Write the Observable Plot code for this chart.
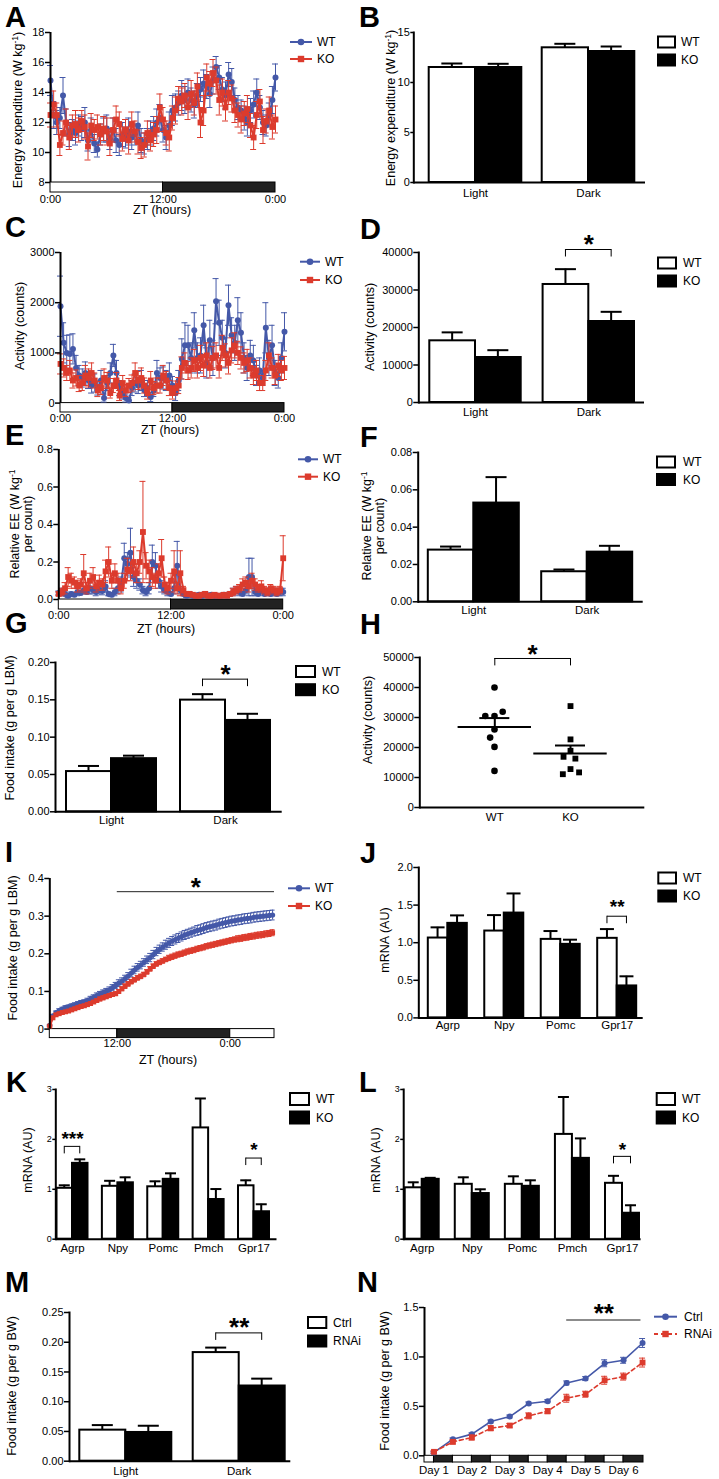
<!DOCTYPE html>
<html>
<head>
<meta charset="utf-8">
<script src="https://cdn.jsdelivr.net/npm/d3@7"></script>
<script src="https://cdn.jsdelivr.net/npm/@observablehq/plot@0.6"></script>
<style>
html,body{margin:0;padding:0;background:#fff;}
#fig{position:relative;width:719px;height:1479px;overflow:hidden;background:#fff;font-family:"Liberation Sans",Arial,Helvetica,sans-serif;color:#000;}
.t{position:absolute;white-space:nowrap;line-height:1;text-align:center;}
.letter{position:absolute;font-weight:bold;font-size:29px;line-height:1;}
sup{font-size:0.68em;line-height:0;vertical-align:0.45em;}
</style>
</head>
<body>
<div id="fig"></div>
<script>
// ================= DATA =================
const genotypes = ["WT", "KO"];
const lightDark = ["Light", "Dark"];
const treatments = ["Ctrl", "RNAi"];
const genesJ = ["Agrp", "Npy", "Pomc", "Gpr17"];
const genesKL = ["Agrp", "Npy", "Pomc", "Pmch", "Gpr17"];

// sampling times (ZT hours), every 20 min
const zt = d3.range(73).map(i => i / 3);
const ztI = d3.range(72).map(i => 4.83 + i / 3);

// A: energy expenditure time course (W/kg)
const eeWT = [14.8,12.5,12.0,12.3,13.8,12.0,11.2,11.5,11.3,11.8,
  11.6,12.0,10.8,11.5,10.6,10.2,11.2,11.5,11.6,10.9,
  11.5,10.8,10.5,11.2,11.0,11.4,11.0,11.2,11.8,10.8,
  10.6,10.9,11.3,11.6,12.0,12.3,11.5,11.0,11.8,12.8,
  13.0,13.3,13.8,13.5,14.0,13.5,13.2,13.8,14.2,14.6,
  14.4,13.9,14.8,15.7,15.0,14.2,13.8,15.2,14.7,13.5,
  13.0,12.8,12.3,12.0,12.8,13.2,14.0,13.0,12.0,11.8,
  12.5,13.5,15.0];
const eeWTsem = [1.0,0.9,0.8,0.7,1.2,0.9,0.8,0.7,0.8,0.7,
  0.8,1.0,0.7,0.8,0.6,0.5,0.7,0.8,0.9,0.7,
  0.8,0.8,0.7,0.8,0.7,0.9,0.8,0.7,0.9,0.8,
  0.7,0.7,0.8,0.8,0.9,0.9,0.8,0.8,0.9,1.0,
  0.9,0.8,1.0,0.9,0.9,0.8,0.9,0.8,0.8,0.9,
  0.8,0.9,0.9,0.7,0.8,0.8,0.9,0.8,0.9,0.8,
  0.8,0.7,0.8,0.9,0.8,0.9,0.9,0.8,0.8,0.7,
  0.8,0.9,0.9];
const eeKO = [12.5,13.2,12.5,10.5,11.3,12.0,11.0,11.8,11.9,11.5,
  12.1,11.7,10.4,11.8,11.5,11.7,11.2,11.6,11.4,10.6,
  11.5,12.2,11.9,10.9,11.5,10.8,11.9,11.4,10.7,10.3,
  10.5,11.3,10.8,11.2,11.5,13.0,12.2,11.3,11.0,12.3,
  12.8,13.6,13.4,13.8,13.0,13.9,13.3,14.4,12.0,12.8,
  15.0,14.6,15.3,14.8,13.5,14.0,13.0,14.0,13.6,12.8,
  12.5,12.2,12.6,12.9,11.8,11.0,12.5,13.4,11.5,12.1,
  12.8,11.7,12.2];
const eeKOsem = [0.8,0.9,0.8,0.7,0.8,0.9,0.8,0.7,0.9,0.8,
  0.7,0.8,0.9,0.8,0.7,0.8,0.7,0.8,0.9,0.8,
  0.8,0.9,0.8,0.8,0.7,0.9,0.8,0.7,0.8,0.7,
  0.8,0.8,0.7,0.8,0.9,0.9,0.8,0.8,0.9,0.8,
  0.9,0.8,0.9,0.8,0.8,0.9,0.8,0.9,1.0,1.0,
  0.9,0.8,0.9,0.9,1.0,0.9,0.9,0.8,0.9,0.8,
  0.8,0.9,0.8,0.9,0.8,0.8,0.9,0.8,0.9,0.8,
  0.9,0.8,0.9];

// B: energy expenditure, light / dark
const eeBarWT = [11.5, 13.47], eeBarWTsem = [0.4, 0.4];
const eeBarKO = [11.5, 13.1], eeBarKOsem = [0.37, 0.5];

// C: activity time course (counts)
const actWT = [1930,1200,1000,980,1080,700,550,500,600,450,
  350,400,300,450,100,400,600,950,600,300,
  200,100,50,300,400,350,450,250,300,120,
  250,600,500,500,450,550,350,200,450,880,
  1150,1150,900,1450,900,950,1550,800,1250,900,
  2030,1600,1300,1000,1950,1350,1200,1650,1400,900,
  700,950,850,550,650,500,1500,900,1150,600,
  500,900,1420];
const actWTsem = [600,400,350,380,300,250,200,180,220,160,
  150,180,140,200,80,150,200,220,250,150,
  120,80,60,150,180,160,200,120,150,90,
  120,250,200,220,200,250,180,150,200,400,
  450,400,300,350,300,350,400,300,400,350,
  450,450,350,300,400,350,350,450,400,300,
  250,300,300,200,250,150,500,350,400,250,
  200,300,380];
const actKO = [780,700,600,650,450,500,350,400,550,500,
  600,450,250,300,500,450,200,350,450,150,
  400,250,350,400,600,450,500,350,200,450,
  300,350,350,550,450,300,200,300,350,700,
  800,650,700,850,700,900,750,950,700,900,
  950,700,1100,950,800,1050,1150,1000,900,800,
  850,700,550,650,400,400,650,950,700,550,
  750,650,700];
const actKOsem = [200,180,150,200,150,160,120,150,200,180,
  200,150,120,130,180,160,100,140,160,100,
  150,120,140,160,200,180,200,150,120,180,
  130,150,150,200,180,150,120,140,160,220,
  200,180,200,220,200,250,220,250,200,230,
  250,200,250,230,220,250,250,230,220,200,
  220,200,180,200,150,150,200,250,200,180,
  220,200,230];

// D: activity, light / dark
const actBarWT = [16450, 31470], actBarWTsem = [2250, 4090];
const actBarKO = [12000, 21600], actBarKOsem = [1950, 2580];

// E: relative EE time course
const reeWT = [0.035,0.04,0.03,0.02,0.03,0.025,0.04,0.035,0.05,0.04,
  0.06,0.05,0.04,0.05,0.045,0.07,0.03,0.025,0.04,0.06,
  0.08,0.22,0.19,0.25,0.12,0.1,0.08,0.05,0.04,0.06,
  0.2,0.18,0.1,0.07,0.05,0.04,0.03,0.06,0.18,0.05,
  0.03,0.02,0.025,0.02,0.02,0.025,0.02,0.03,0.02,0.025,
  0.02,0.02,0.02,0.025,0.02,0.03,0.04,0.05,0.04,0.03,
  0.05,0.12,0.12,0.04,0.03,0.05,0.03,0.04,0.03,0.04,
  0.03,0.04,0.04];
const reeWTsem = [0.01,0.02,0.01,0.01,0.01,0.01,0.02,0.01,0.02,0.01,
  0.03,0.02,0.02,0.02,0.02,0.03,0.01,0.01,0.02,0.03,
  0.04,0.08,0.06,0.13,0.05,0.04,0.03,0.02,0.02,0.03,
  0.09,0.07,0.04,0.03,0.02,0.02,0.01,0.03,0.13,0.02,
  0.01,0.01,0.01,0.01,0.01,0.01,0.01,0.01,0.01,0.01,
  0.01,0.01,0.01,0.01,0.01,0.01,0.02,0.02,0.02,0.01,
  0.02,0.1,0.1,0.02,0.01,0.02,0.01,0.02,0.01,0.02,
  0.01,0.02,0.02];
const reeKO = [0.03,0.04,0.06,0.12,0.1,0.09,0.07,0.08,0.14,0.06,
  0.1,0.12,0.07,0.09,0.08,0.15,0.2,0.1,0.14,0.1,
  0.06,0.1,0.16,0.15,0.2,0.14,0.2,0.36,0.18,0.15,
  0.12,0.1,0.14,0.22,0.08,0.06,0.1,0.15,0.06,0.14,
  0.05,0.03,0.03,0.025,0.02,0.02,0.025,0.03,0.02,0.02,
  0.025,0.02,0.02,0.025,0.02,0.03,0.04,0.05,0.06,0.08,
  0.09,0.07,0.1,0.08,0.06,0.07,0.05,0.04,0.06,0.05,
  0.04,0.05,0.22];
const reeKOsem = [0.01,0.02,0.03,0.05,0.04,0.03,0.03,0.03,0.1,0.03,
  0.04,0.05,0.03,0.04,0.03,0.06,0.08,0.04,0.05,0.04,
  0.03,0.04,0.06,0.05,0.08,0.05,0.06,0.27,0.07,0.06,
  0.05,0.04,0.05,0.1,0.04,0.03,0.04,0.11,0.03,0.12,
  0.02,0.01,0.01,0.01,0.01,0.01,0.01,0.01,0.01,0.01,
  0.01,0.01,0.01,0.01,0.01,0.01,0.02,0.02,0.02,0.03,
  0.03,0.03,0.04,0.03,0.02,0.03,0.02,0.02,0.02,0.02,
  0.02,0.02,0.12];

// F: relative EE, light / dark
const reeBarWT = [0.0277, 0.0161], reeBarWTsem = [0.0019, 0.0012];
const reeBarKO = [0.0529, 0.0266], reeBarKOsem = [0.0139, 0.0034];

// G: food intake, light / dark (g per g LBM)
const fiBarWT = [0.0539, 0.1496], fiBarWTsem = [0.0075, 0.008];
const fiBarKO = [0.0712, 0.1224], fiBarKOsem = [0.004, 0.0089];

// H: individual activity counts
const hWT = [40000, 30500, 30500, 31900, 26000, 23300, 20200, 12200];
const hKO = [33800, 22700, 18900, 16900, 16300, 12800, 11100, 11700];

// I: cumulative food intake (g per g LBM)
const cumWT = [0.01,0.035,0.044,0.049,0.053,0.057,0.059,0.062,0.064,0.067,
  0.07,0.072,0.076,0.08,0.084,0.089,0.093,0.097,0.1,0.104,
  0.11,0.116,0.122,0.127,0.134,0.141,0.149,0.157,0.164,0.17,
  0.177,0.184,0.19,0.198,0.206,0.212,0.218,0.224,0.229,0.234,
  0.238,0.242,0.246,0.25,0.253,0.256,0.259,0.262,0.264,0.267,
  0.27,0.272,0.274,0.276,0.279,0.281,0.283,0.285,0.287,0.288,
  0.29,0.291,0.293,0.294,0.295,0.297,0.298,0.299,0.3,0.301,
  0.302,0.303];
const cumWTsem = [0.002,0.004,0.004,0.005,0.005,0.005,0.005,0.005,0.006,0.006,
  0.006,0.006,0.006,0.007,0.007,0.007,0.007,0.007,0.008,0.008,
  0.008,0.008,0.009,0.009,0.009,0.009,0.01,0.01,0.01,0.01,
  0.01,0.01,0.011,0.011,0.011,0.011,0.011,0.012,0.012,0.012,
  0.012,0.012,0.012,0.012,0.012,0.012,0.012,0.013,0.013,0.013,
  0.013,0.013,0.013,0.013,0.013,0.013,0.013,0.013,0.013,0.013,
  0.013,0.013,0.013,0.013,0.013,0.013,0.013,0.013,0.013,0.013,
  0.013,0.013];
const cumKO = [0.008,0.03,0.038,0.041,0.044,0.046,0.048,0.051,0.054,0.057,
  0.06,0.062,0.065,0.068,0.072,0.076,0.08,0.083,0.086,0.089,
  0.092,0.094,0.1,0.107,0.114,0.12,0.126,0.131,0.136,0.14,
  0.145,0.152,0.16,0.167,0.173,0.177,0.181,0.185,0.189,0.192,
  0.195,0.198,0.2,0.203,0.206,0.208,0.21,0.213,0.215,0.217,
  0.22,0.222,0.224,0.226,0.228,0.23,0.232,0.234,0.236,0.238,
  0.24,0.241,0.243,0.244,0.246,0.247,0.249,0.25,0.251,0.253,
  0.254,0.256];
const cumKOsem = [0.002,0.003,0.003,0.003,0.003,0.003,0.003,0.004,0.004,0.004,
  0.004,0.004,0.004,0.004,0.004,0.005,0.005,0.005,0.005,0.005,
  0.005,0.005,0.005,0.005,0.006,0.006,0.006,0.006,0.006,0.006,
  0.006,0.006,0.006,0.006,0.006,0.006,0.006,0.006,0.007,0.007,
  0.007,0.007,0.007,0.007,0.007,0.007,0.007,0.007,0.007,0.007,
  0.007,0.007,0.007,0.007,0.007,0.007,0.007,0.007,0.007,0.007,
  0.008,0.008,0.008,0.008,0.008,0.008,0.008,0.008,0.008,0.008,
  0.008,0.008];

// J: hypothalamic mRNA
const jWT = [1.062, 1.155, 1.044, 1.058], jWTsem = [0.142, 0.212, 0.111, 0.123];
const jKO = [1.257, 1.394, 0.978, 0.425], jKOsem = [0.106, 0.261, 0.062, 0.128];
// K
const kWT = [1.02, 1.06, 1.05, 2.23, 1.07], kWTsem = [0.06, 0.11, 0.11, 0.59, 0.11];
const kKO = [1.52, 1.13, 1.2, 0.795, 0.55], kKOsem = [0.08, 0.11, 0.12, 0.21, 0.15];
// L
const lWT = [1.03, 1.1, 1.1, 2.1, 1.12], lWTsem = [0.11, 0.14, 0.16, 0.75, 0.15];
const lKO = [1.2, 0.915, 1.06, 1.62, 0.52], lKOsem = [0.03, 0.085, 0.12, 0.4, 0.16];

// M: food intake, Ctrl vs RNAi (g per g BW)
const mCtrl = [0.0522, 0.1826], mCtrlsem = [0.0085, 0.0084];
const mRNAi = [0.0483, 0.1264], mRNAisem = [0.0113, 0.0124];

// N: cumulative food intake over 6 days (hours from start)
const nHours = [12, 24, 36, 48, 60, 72, 84, 96, 108, 120, 132, 144];
const nCtrl = [0.034,0.168,0.219,0.347,0.397,0.529,0.552,0.737,0.781,0.936,0.966,1.141];
const nCtrlsem = [0.01,0.012,0.012,0.015,0.015,0.015,0.015,0.02,0.02,0.035,0.03,0.045];
const nRNAi = [0.04,0.141,0.185,0.279,0.306,0.404,0.451,0.582,0.623,0.764,0.801,0.943];
const nRNAisem = [0.01,0.02,0.025,0.025,0.02,0.03,0.025,0.04,0.03,0.04,0.035,0.045];
const dayTicks = [12, 36, 60, 84, 108, 132];
const dayLabels = ["Day 1", "Day 2", "Day 3", "Day 4", "Day 5", "Day 6"];

// light / dark phases
const phases24 = [{start: 0, end: 12, dark: false}, {start: 12, end: 24, dark: true}];
const phasesI = [{start: 4.83, end: 12, dark: false}, {start: 12, end: 24, dark: true}, {start: 24, end: 28.7, dark: false}];
const phasesN = [{start: 6, end: 12, dark: false}, {start: 12, end: 24, dark: true}, {start: 24, end: 36, dark: false},
  {start: 36, end: 48, dark: true}, {start: 48, end: 60, dark: false}, {start: 60, end: 72, dark: true},
  {start: 72, end: 84, dark: false}, {start: 84, end: 96, dark: true}, {start: 96, end: 108, dark: false},
  {start: 108, end: 120, dark: true}, {start: 120, end: 132, dark: false}, {start: 132, end: 144.6, dark: true}];

// significance annotations
const sigD = [{cat: "Dark", y: 40800, label: "*"}];
const sigG = [{cat: "Dark", y: 0.1777, label: "*"}];
const sigH = [{a: "WT", b: "KO", y: 49667, label: "*"}];
const sigI = [{t1: 12, t2: 28.7, y: 0.365, label: "*"}];
const sigJ = [{cat: "Gpr17", y: 1.352, label: "**"}];
const sigK = [{cat: "Agrp", y: 1.86, label: "***"}, {cat: "Gpr17", y: 1.626, label: "*"}];
const sigL = [{cat: "Gpr17", y: 1.66, label: "*"}];
const sigM = [{cat: "Dark", y: 0.2157, label: "**"}];
const sigN = [{t1: 96, t2: 143, y: 1.3725, label: "**"}];

// ================= RENDERING =================
const FONT = "'Liberation Sans', Arial, Helvetica, sans-serif";
const STYLE = `font-family: ${FONT}; font-size: 11px; background: transparent; overflow: visible; max-width: none;`;
const BLUE = "#4458a8", RED = "#dc3b2d";
const TICKF = 11, CATF = 11.5;
const fig = document.getElementById("fig");
const legendParts = [];

function place(node, left, top, w) {
  const d = document.createElement("div");
  d.style.cssText = `position:absolute;left:${left}px;top:${top}px;width:${w}px;`;
  d.appendChild(node);
  fig.appendChild(d);
}
function text(html, x, y, {size = 12.5, rotate = false, weight = "normal", align = "center", lh = 1} = {}) {
  const d = document.createElement("div");
  d.className = "t";
  d.innerHTML = html;
  d.style.fontSize = size + "px";
  d.style.fontWeight = weight;
  d.style.lineHeight = lh === 1 ? "1" : lh + "px";
  d.style.left = x + "px";
  d.style.top = y + "px";
  let tr = align === "left" ? "translate(0,-50%)" : "translate(-50%,-50%)";
  if (rotate) tr += " rotate(-90deg)";
  d.style.transform = tr;
  fig.appendChild(d);
}
function letter(ch, x, capTop) {
  const d = document.createElement("div");
  d.className = "letter";
  d.textContent = ch;
  d.style.left = x + "px";
  d.style.top = (capTop - 3.8) + "px";
  fig.appendChild(d);
}
function lineLegend(x1, x2, ys, tx, items) {
  items.forEach((it, k) => {
    const y = ys[k], cx = (x1 + x2) / 2;
    legendParts.push(`<line x1="${x1}" x2="${x2}" y1="${y}" y2="${y}" stroke="${it.color}" stroke-width="2"${it.dash ? ` stroke-dasharray="${it.dash}"` : ""}/>`);
    legendParts.push(it.symbol === "square"
      ? `<rect x="${cx - 3.2}" y="${y - 3.2}" width="6.4" height="6.4" fill="${it.color}"/>`
      : `<circle cx="${cx}" cy="${y}" r="3.3" fill="${it.color}"/>`);
    text(it.label, tx, y, {size: 12, align: "left"});
  });
}
function boxLegend(x, w, h, ys, tx, labels) {
  labels.forEach((lab, k) => {
    legendParts.push(`<rect x="${x}" y="${ys[k] - h / 2}" width="${w}" height="${h}" fill="${k ? "black" : "white"}" stroke="black" stroke-width="2"/>`);
    text(lab, tx, ys[k], {size: 12, align: "left"});
  });
}

function timePanel(o) {
  const pad = 40;
  const ymin = o.yDomain[0];
  const marks = [
    Plot.rect(o.phases, {x1: "start", x2: "end", y1: ymin, y2: ymin, insetBottom: -o.barH,
      fill: d => d.dark ? "#222222" : "#ffffff", stroke: "black", strokeWidth: 1})
  ];
  for (const s of o.series) {
    const data = s.v.map((v, i) => ({t: s.t[i], v, e: s.e[i]}));
    const cap = {stroke: s.color, strokeWidth: 1, insetLeft: -o.capW / 2, insetRight: -o.capW / 2};
    marks.push(Plot.ruleX(data, {x: "t", y1: d => Math.max(ymin, d.v - d.e), y2: d => d.v + d.e, stroke: s.color, strokeWidth: 1}));
    marks.push(Plot.ruleY(data, {x1: "t", x2: "t", y: d => d.v + d.e, ...cap}));
    marks.push(Plot.ruleY(data.filter(d => d.v - d.e > ymin), {x1: "t", x2: "t", y: d => d.v - d.e, ...cap}));
    marks.push(Plot.line(data, {x: "t", y: "v", stroke: s.color, strokeWidth: s.lw || 2, strokeDasharray: s.dash}));
    marks.push(Plot.dot(data, {x: "t", y: "v", fill: s.color, r: s.r, symbol: s.symbol}));
  }
  marks.push(Plot.ruleX([o.xDomain[0]], {strokeWidth: 2}));
  marks.push(Plot.axisY({ticks: o.yTicks, tickFormat: o.yFmt, tickSize: 5, tickPadding: 1, strokeWidth: 1.5, label: null, fontSize: o.tickFont || TICKF}));
  marks.push(Plot.axisX({ticks: o.xTicks, tickFormat: o.xFmt, tickSize: 0, tickPadding: o.xPad, label: null, fontSize: o.xFont || TICKF}));
  if (o.sig) {
    marks.push(Plot.ruleY(o.sig, {y: "y", x1: "t1", x2: "t2", stroke: o.sigColor || "black", strokeWidth: o.sigW || 1}));
    marks.push(Plot.text(o.sig, {x: d => (d.t1 + d.t2) / 2, y: "y", text: "label", fontSize: o.sigFont, fontWeight: "bold",
      dy: -o.sigOff + 0.255 * o.sigFont}));
  }
  const svg = Plot.plot({
    width: 360, height: o.yBot - o.yTop + 2 * pad,
    marginLeft: o.x0 - o.col, marginRight: o.col + 360 - o.x1, marginTop: pad, marginBottom: pad,
    style: STYLE,
    x: {domain: o.xDomain},
    y: {domain: o.yDomain},
    marks
  });
  place(svg, o.col, o.yTop - pad, 360);
}

function barPanel(o) {
  const pad = 40;
  const n = o.cats.length;
  const step = (o.cN - o.c0) / (n - 1);
  const bw = o.bw, B = 2 * bw;
  const pi = 1 - B / step;
  const range = o.x1 - o.x0;
  const leftover = range - step * (n - pi);
  const po = leftover / (2 * step);
  const align = Math.max(0, Math.min(1, (o.c0 - B / 2 - o.x0) / leftover));
  const [ymin, ymax] = o.yDomain;
  const upp = (ymax - ymin) / (o.yBot - o.yTop);
  const rows = o.groups.map(s => o.cats.map((c, i) => ({cat: c, v: s.mean[i], s: s.sem[i]})));
  const capW = o.capW, ew = 2;
  const centers = [bw / 2, 1.5 * bw];
  const marks = [
    Plot.barY(rows[0], {x: "cat", y: "v", fill: "white", stroke: "black", strokeWidth: 2, insetRight: bw}),
    Plot.barY(rows[1], {x: "cat", y: "v", fill: "black", stroke: "black", strokeWidth: 2, insetLeft: bw})
  ];
  rows.forEach((r, k) => {
    const c = centers[k];
    marks.push(Plot.barY(r, {x: "cat", y1: "v", y2: d => d.v + d.s, fill: "black", insetLeft: c - ew / 2, insetRight: B - c - ew / 2}));
    marks.push(Plot.tickY(r, {x: "cat", y: d => d.v + d.s, strokeWidth: 2, insetLeft: c - capW / 2, insetRight: B - c - capW / 2}));
  });
  marks.push(Plot.ruleY([ymin], {strokeWidth: 2}));
  marks.push(Plot.frame({anchor: "left", strokeWidth: 2}));
  marks.push(Plot.axisY({ticks: o.yTicks, tickFormat: o.yFmt, tickSize: o.tickSize || 5, tickPadding: 1, strokeWidth: 1.5, label: null, fontSize: o.tickFont || TICKF}));
  marks.push(Plot.axisX({tickSize: 0, tickPadding: o.catPad, label: null, fontSize: o.catFont || CATF}));
  if (o.sig) {
    const L = 7.5 * upp;
    marks.push(Plot.tickY(o.sig, {x: "cat", y: "y", strokeWidth: 1, insetLeft: bw / 2, insetRight: bw / 2}));
    marks.push(Plot.barY(o.sig, {x: "cat", y1: d => d.y - L, y2: "y", fill: "black", insetLeft: bw / 2 - 0.5, insetRight: 1.5 * bw - 0.5}));
    marks.push(Plot.barY(o.sig, {x: "cat", y1: d => d.y - L, y2: "y", fill: "black", insetLeft: 1.5 * bw - 0.5, insetRight: bw / 2 - 0.5}));
    marks.push(Plot.text(o.sig, {x: "cat", y: "y", text: "label", fontSize: o.sigFont, fontWeight: "bold", dy: -o.sigOff + 0.255 * o.sigFont}));
  }
  const svg = Plot.plot({
    width: 360, height: o.yBot - o.yTop + 2 * pad,
    marginLeft: o.x0 - o.col, marginRight: o.col + 360 - o.x1, marginTop: pad, marginBottom: pad,
    style: STYLE,
    x: {type: "band", domain: o.cats, paddingInner: pi, paddingOuter: po, align, round: false},
    y: {domain: o.yDomain},
    marks
  });
  place(svg, o.col, o.yTop - pad, 360);
}

const f0 = d3.format("d"), f1 = d3.format(".1f"), f2 = d3.format(".2f");
const ztFmt = t => t === 12 ? "12:00" : "0:00";

// ---- A ----
timePanel({col: 0, x0: 50, x1: 275, yTop: 31.7, yBot: 181.7, xDomain: [0, 24], yDomain: [8, 18],
  yTicks: [8, 10, 12, 14, 16, 18], yFmt: f0, xTicks: [0, 12, 24], xFmt: ztFmt, xPad: 12.5,
  phases: phases24, barH: 10, capW: 6,
  series: [
    {t: zt, v: eeWT, e: eeWTsem, color: BLUE, r: 3, symbol: "circle"},
    {t: zt, v: eeKO, e: eeKOsem, color: RED, r: 3.3, symbol: "square"}
  ]});
// ---- B ----
barPanel({col: 360, x0: 413.3, x1: 645, yTop: 31.7, yBot: 181.7, yDomain: [0, 15], yTicks: [0, 5, 10, 15], yFmt: f0, tickSize: 3,
  cats: lightDark, c0: 475, cN: 588, bw: 46.3, capW: 21, catPad: 6,
  groups: [{mean: eeBarWT, sem: eeBarWTsem}, {mean: eeBarKO, sem: eeBarKOsem}]});
// ---- C ----
timePanel({col: 0, x0: 60, x1: 284, yTop: 251.7, yBot: 402.3, xDomain: [0, 24], yDomain: [0, 3000],
  yTicks: [0, 1000, 2000, 3000], yFmt: f0, xTicks: [0, 12, 24], xFmt: ztFmt, xPad: 11.5,
  phases: phases24, barH: 9.4, capW: 6,
  series: [
    {t: zt, v: actWT, e: actWTsem, color: BLUE, r: 3, symbol: "circle"},
    {t: zt, v: actKO, e: actKOsem, color: RED, r: 3.3, symbol: "square"}
  ]});
// ---- D ----
barPanel({col: 360, x0: 418.3, x1: 644, yTop: 252.3, yBot: 402.3, yDomain: [0, 40000], yTicks: [0, 10000, 20000, 30000, 40000], yFmt: f0,
  cats: lightDark, c0: 475, cN: 588.3, bw: 45.7, capW: 21, catPad: 5.7,
  groups: [{mean: actBarWT, sem: actBarWTsem}, {mean: actBarKO, sem: actBarKOsem}],
  sig: sigD, sigFont: 26, sigOff: 11});
// ---- E ----
timePanel({col: 0, x0: 58.3, x1: 282.7, yTop: 449.3, yBot: 599.3, xDomain: [0, 24], yDomain: [0, 0.8],
  yTicks: [0, 0.2, 0.4, 0.6, 0.8], yFmt: f1, xTicks: [0, 12, 24], xFmt: ztFmt, xPad: 11.5,
  phases: phases24, barH: 10, capW: 6,
  series: [
    {t: zt, v: reeWT, e: reeWTsem, color: BLUE, r: 3, symbol: "circle"},
    {t: zt, v: reeKO, e: reeKOsem, color: RED, r: 3.3, symbol: "square"}
  ]});
// ---- F ----
barPanel({col: 360, x0: 417.7, x1: 642.7, yTop: 451.7, yBot: 601, yDomain: [0, 0.08], yTicks: [0, 0.02, 0.04, 0.06, 0.08], yFmt: f2,
  cats: lightDark, c0: 473.3, cN: 586.7, bw: 45.5, capW: 21, catPad: 4,
  groups: [{mean: reeBarWT, sem: reeBarWTsem}, {mean: reeBarKO, sem: reeBarKOsem}]});
// ---- G ----
barPanel({col: 0, x0: 55, x1: 281.7, yTop: 661.7, yBot: 811, yDomain: [0, 0.2], yTicks: [0, 0.05, 0.1, 0.15, 0.2], yFmt: f2,
  cats: lightDark, c0: 111, cN: 225, bw: 45, capW: 21, catPad: 4,
  groups: [{mean: fiBarWT, sem: fiBarWTsem}, {mean: fiBarKO, sem: fiBarKOsem}],
  sig: sigG, sigFont: 26, sigOff: 11.6});
// ---- H ----
(function () {
  const pad = 40, x0 = 419.3, x1 = 644.3, yTop = 657.3, yBot = 807.3, cW = 494.3, cK = 570;
  const step = cK - cW, range = x1 - x0;
  const padding = (range / step - 1) / 2;
  const align = (cW - x0) / (range - step);
  const upp = 50000 / (yBot - yTop);
  const stats = genotypes.map((g, k) => {
    const v = k ? hKO : hWT;
    return {g, m: d3.mean(v), s: d3.deviation(v) / Math.sqrt(v.length)};
  });
  const L = 7.4 * upp;
  const svg = Plot.plot({
    width: 360, height: yBot - yTop + 2 * pad,
    marginLeft: x0 - 360, marginRight: 720 - x1, marginTop: pad, marginBottom: pad,
    style: STYLE,
    x: {type: "point", domain: genotypes, padding, align, round: false},
    y: {domain: [0, 50000]},
    marks: [
      Plot.ruleY(stats, {y: "m", x1: "g", x2: "g", insetLeft: -36.7, insetRight: -36.7, strokeWidth: 2}),
      Plot.ruleX(stats, {x: "g", y1: "m", y2: d => d.m + d.s, strokeWidth: 2}),
      Plot.ruleY(stats, {y: d => d.m + d.s, x1: "g", x2: "g", insetLeft: -15, insetRight: -15, strokeWidth: 2}),
      Plot.ruleY([0], {strokeWidth: 2}),
      Plot.frame({anchor: "left", strokeWidth: 2}),
      Plot.axisY({ticks: [0, 10000, 20000, 30000, 40000, 50000], tickFormat: f0, tickSize: 5, tickPadding: 1, strokeWidth: 1.5, label: null, fontSize: TICKF}),
      Plot.axisX({tickSize: 0, tickPadding: 5.4, label: null, fontSize: CATF}),
      Plot.ruleY(sigH, {y: "y", x1: "a", x2: "b", strokeWidth: 1}),
      Plot.ruleX(sigH, {x: "a", y1: d => d.y - L, y2: "y", strokeWidth: 1}),
      Plot.ruleX(sigH, {x: "b", y1: d => d.y - L, y2: "y", strokeWidth: 1}),
      Plot.text(sigH, {x: "a", dx: step / 2, y: "y", text: "label", fontSize: 26, fontWeight: "bold", dy: -10 + 0.255 * 26})
    ]
  });
  place(svg, 360, yTop - pad, 360);
  // individual animals, laid out with the dodge transform around each group's centre
  [[hWT, cW, "circle"], [hKO, cK, "square"]].forEach(([vals, c, sym]) => {
    const w = 70;
    const s = Plot.plot({
      width: w, height: yBot - yTop + 2 * pad, marginLeft: 0, marginRight: 0, marginTop: pad, marginBottom: pad,
      style: STYLE,
      y: {domain: [0, 50000], axis: null},
      marks: [Plot.dot(vals.map(v => ({v})), Plot.dodgeX({anchor: "middle", padding: 2.6}, {y: "v", r: 3.3, symbol: sym, fill: "black"}))]
    });
    place(s, c - w / 2, yTop - pad, w);
  });
})();
// ---- I ----
timePanel({col: 0, x0: 49.3, x1: 274, yTop: 877.7, yBot: 1028.3, xDomain: [4.83, 28.7], yDomain: [0, 0.4],
  yTicks: [0, 0.1, 0.2, 0.3, 0.4], yFmt: d => d === 0 ? "0" : f1(d), xTicks: [12, 24], xFmt: ztFmt, xPad: 10.5,
  phases: phasesI, barH: 9, capW: 5,
  series: [
    {t: ztI, v: cumWT, e: cumWTsem, color: BLUE, r: 2.6, symbol: "circle"},
    {t: ztI, v: cumKO, e: cumKOsem, color: RED, r: 2.8, symbol: "square"}
  ],
  sig: sigI, sigFont: 26, sigOff: 10.7, sigColor: "#222"});
// ---- J ----
barPanel({col: 360, x0: 418.3, x1: 642.7, yTop: 867.3, yBot: 1017.7, yDomain: [0, 2], yTicks: [0, 0.5, 1, 1.5, 2], yFmt: f1,
  cats: genesJ, c0: 447.3, cN: 616.7, bw: 19.5, capW: 14, catPad: 2.5,
  groups: [{mean: jWT, sem: jWTsem}, {mean: jKO, sem: jKOsem}],
  sig: sigJ, sigFont: 19, sigOff: 14});
// ---- K ----
barPanel({col: 0, x0: 55.3, x1: 276.5, yTop: 1089.3, yBot: 1239, yDomain: [0, 3], yTicks: [0, 1, 2, 3], yFmt: f0, tickFont: 9, tickSize: 3,
  cats: genesKL, c0: 72, cN: 253.5, bw: 15.5, capW: 11, catPad: 5,
  groups: [{mean: kWT, sem: kWTsem}, {mean: kKO, sem: kKOsem}],
  sig: sigK, sigFont: 19, sigOff: 12.7});
// ---- L ----
barPanel({col: 360, x0: 403.2, x1: 640.6, yTop: 1089.3, yBot: 1239, yDomain: [0, 3], yTicks: [0, 1, 2, 3], yFmt: f0, tickFont: 9, tickSize: 3,
  cats: genesKL, c0: 421.7, cN: 622, bw: 17, capW: 11, catPad: 5,
  groups: [{mean: lWT, sem: lWTsem}, {mean: lKO, sem: lKOsem}],
  sig: sigL, sigFont: 19, sigOff: 11});
// ---- M ----
barPanel({col: 0, x0: 69, x1: 290.3, yTop: 1312.3, yBot: 1461, yDomain: [0, 0.25], yTicks: [0, 0.05, 0.1, 0.15, 0.2, 0.25], yFmt: f2,
  cats: lightDark, c0: 125.3, cN: 238.7, bw: 46, capW: 21, catPad: 5.7,
  groups: [{mean: mCtrl, sem: mCtrlsem}, {mean: mRNAi, sem: mRNAisem}],
  sig: sigM, sigFont: 26, sigOff: 11.7});
// ---- N ----
timePanel({col: 360, x0: 424, x1: 643, yTop: 1306.7, yBot: 1455, xDomain: [6, 144.6], yDomain: [0, 1.5],
  yTicks: [0, 0.5, 1, 1.5], yFmt: f1, xTicks: dayTicks, xFmt: t => dayLabels[dayTicks.indexOf(t)], xPad: 10.5, xFont: 11.5,
  phases: phasesN, barH: 6.7, capW: 6,
  series: [
    {t: nHours, v: nCtrl, e: nCtrlsem, color: BLUE, r: 3, symbol: "circle", lw: 1.6},
    {t: nHours, v: nRNAi, e: nRNAisem, color: RED, r: 3.3, symbol: "square", lw: 1.6, dash: "4,3"}
  ],
  sig: sigN, sigFont: 26, sigOff: 13.3, sigColor: "#666", sigW: 1.5});

// ---- panel letters ----
letter("A", 5, 7); letter("B", 359, 7);
letter("C", 5, 217); letter("D", 360, 219);
letter("E", 5, 425); letter("F", 360, 427);
letter("G", 5, 613); letter("H", 360, 614);
letter("I", 5, 842); letter("J", 360, 843);
letter("K", 6, 1072); letter("L", 359, 1072);
letter("M", 5, 1272); letter("N", 357, 1272);

// ---- axis titles ----
const eeTitle = "Energy expenditure (W kg<sup>-1</sup>)";
const reeTitle = "Relative EE (W kg<sup>-1</sup><br>per count)";
text(eeTitle, 18, 110, {rotate: true});
text(eeTitle, 391, 108, {rotate: true});
text("Activity (counts)", 20, 326, {rotate: true});
text("Activity (counts)", 370, 327, {rotate: true});
text(reeTitle, 21.5, 524, {rotate: true, lh: 13});
text(reeTitle, 374, 526, {rotate: true, lh: 13});
text("Food intake (g per g LBM)", 10, 728, {rotate: true});
text("Activity (counts)", 368, 720, {rotate: true});
text("Food intake (g per g LBM)", 13.3, 948, {rotate: true});
text("mRNA (AU)", 385, 940, {rotate: true});
text("mRNA (AU)", 27.6, 1160, {rotate: true});
text("mRNA (AU)", 376, 1160, {rotate: true});
text("Food intake (g per g BW)", 11.5, 1386, {rotate: true});
text("Food intake (g per g BW)", 384.8, 1381, {rotate: true});
text("ZT (hours)", 162, 210, {size: 12.5});
text("ZT (hours)", 170, 430, {size: 12.5});
text("ZT (hours)", 166, 629, {size: 12.5});
text("ZT (hours)", 168, 1060, {size: 12.5});

// ---- legends ----
const lineItems = [{label: "WT", color: BLUE, symbol: "circle"}, {label: "KO", color: RED, symbol: "square"}];
lineLegend(290, 312, [42, 59], 317, lineItems);
boxLegend(658, 17, 11, [42, 60], 681, genotypes);
lineLegend(300, 320, [261.7, 280], 325, lineItems);
boxLegend(658, 18, 11, [263, 281], 683, genotypes);
lineLegend(298, 318, [459.3, 476.7], 323, lineItems);
boxLegend(657, 18, 11, [462, 479.5], 683, genotypes);
boxLegend(296, 19, 11, [671.5, 689.7], 322, genotypes);
lineLegend(288, 310, [888.3, 906], 315, lineItems);
boxLegend(658.3, 17.7, 11, [878, 896], 683, genotypes);
boxLegend(290, 19, 12, [1099, 1117.5], 316, genotypes);
boxLegend(656.7, 18.3, 12, [1099, 1117.5], 682, genotypes);
boxLegend(308, 18.3, 11, [1322.5, 1341], 333, treatments);
lineLegend(654, 677, [1316.7, 1334], 684, [{label: "Ctrl", color: BLUE, symbol: "circle"}, {label: "RNAi", color: RED, symbol: "square", dash: "4,3"}]);

const ov = document.createElement("div");
ov.style.cssText = "position:absolute;left:0;top:0;width:719px;height:1479px;pointer-events:none;";
ov.innerHTML = `<svg width="719" height="1479" xmlns="http://www.w3.org/2000/svg">${legendParts.join("")}</svg>`;
fig.appendChild(ov);
</script>
</body>
</html>
